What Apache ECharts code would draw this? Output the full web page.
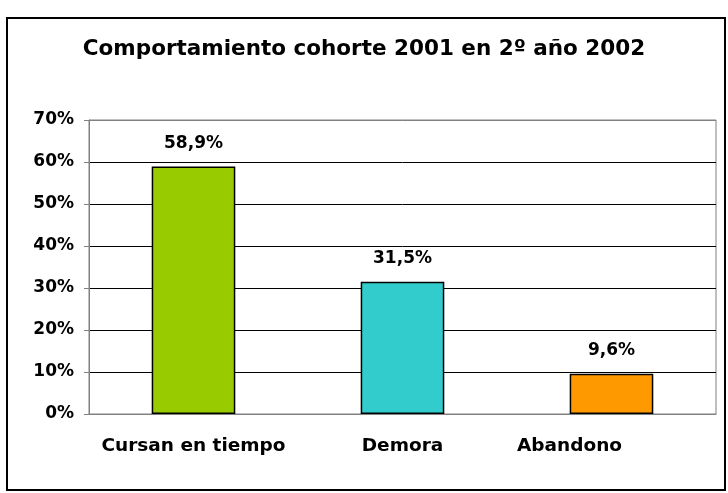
<!DOCTYPE html>
<html>
<head>
<meta charset="UTF-8">
<title>Comportamiento cohorte 2001</title>
<script type="text/javascript" src="https://cdn.jsdelivr.net/npm/echarts@6/dist/echarts.min.js"></script>
<style>
  html, body { margin: 0; padding: 0; background: #fff; }
  #main { width: 728px; height: 493px; }
</style>
</head>
<body>
<div id="main"></div>
<script type="text/javascript">
    // datos del gráfico
    var categorias = ['Cursan en tiempo', 'Demora', 'Abandono'];
    var porcentajes = [58.9, 31.5, 9.6];
    var colores = ['#99CC00', '#33CCCC', '#FF9900'];
    var ticksY = [0, 10, 20, 30, 40, 50, 60, 70];

    var fuente = '"DejaVu Sans", Arial, sans-serif';
    var myChart = echarts.init(document.getElementById('main'));

    var option = {
        animation: false,
        backgroundColor: '#fff',
        title: {
            text: 'Comportamiento cohorte 2001 en 2º año 2002',
            left: 'center',
            top: 33,
            padding: [5, 5, 5, 21],
            textStyle: { fontFamily: fuente, fontWeight: 'bold', fontSize: 21.5, color: '#000' }
        },
        graphic: [{
            type: 'rect',
            shape: { x: 7, y: 18, width: 718, height: 472 },
            style: { fill: 'none', stroke: '#000', lineWidth: 2 },
            silent: true
        }],
        grid: {
            left: 89, right: 12, top: 120, bottom: 79,
            show: true, borderColor: '#808080', borderWidth: 1
        },
        xAxis: {
            type: 'category',
            data: categorias.map(function (c, i) {
                // Excel coloca "Abandono" algo a la izquierda
                return i === 2 ? { value: c, textStyle: { padding: [0, 84, 0, 0] } } : c;
            }),
            axisLine: { lineStyle: { color: '#808080' } },
            axisTick: { length: 6, lineStyle: { color: '#808080' } },
            axisLabel: {
                interval: 0,
                hideOverlap: false,
                margin: 23, color: '#000', fontFamily: fuente, fontWeight: 'bold', fontSize: 18.5
            }
        },
        yAxis: {
            type: 'value',
            min: ticksY[0],
            max: ticksY[ticksY.length - 1],
            interval: 10,
            axisLine: { show: true, lineStyle: { color: '#808080' } },
            axisTick: { show: true, length: 5, lineStyle: { color: '#808080' } },
            axisLabel: {
                margin: 15, color: '#000', fontFamily: fuente, fontWeight: 'bold', fontSize: 17,
                formatter: '{value}%'
            },
            splitLine: {
                lineStyle: {
                    color: ['#808080', '#000', '#000', '#000', '#000', '#000', '#000', '#808080'],
                    width: 1
                }
            }
        },
        series: [{
            type: 'bar',
            barWidth: '40%',
            data: porcentajes.map(function (v, i) {
                return { value: v, itemStyle: { color: colores[i] } };
            }),
            itemStyle: { borderColor: '#000', borderWidth: 1.5 },
            label: {
                show: true,
                position: 'top',
                distance: 15,
                color: '#000',
                fontFamily: fuente,
                fontWeight: 'bold',
                fontSize: 17,
                formatter: function (p) { return p.value.toFixed(1).replace('.', ',') + '%'; }
            }
        }]
    };

    myChart.setOption(option);
</script>
</body>
</html>
